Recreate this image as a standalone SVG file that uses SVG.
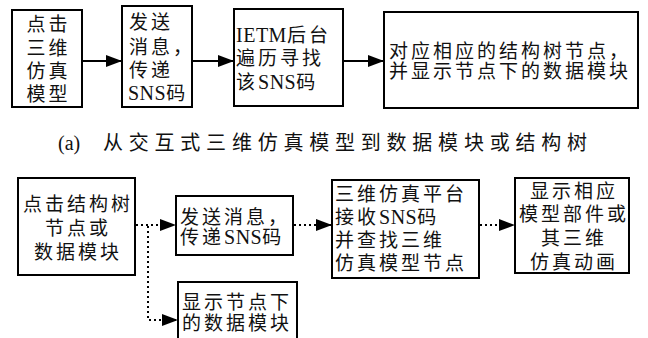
<svg xmlns="http://www.w3.org/2000/svg" width="648" height="338" viewBox="0 0 648 338">
<style>
.box{fill:#fff;stroke:#000;stroke-width:2}
.t{font-family:"Liberation Serif","Noto Sans CJK SC",serif;font-size:19px;letter-spacing:3px;fill:#111}
.c{text-anchor:middle}
.l{letter-spacing:0.5px;font-size:20px}
.solid{stroke:#000;stroke-width:2;fill:none}
.dot{stroke:#000;stroke-width:2;fill:none;stroke-dasharray:2 3}
.cap{font-family:"Liberation Serif","Noto Sans CJK SC",serif;font-size:20px;fill:#111}
</style>
<defs>
<marker id="ah" markerUnits="userSpaceOnUse" markerWidth="16" markerHeight="12" refX="16" refY="6" orient="auto">
<path d="M0,0 L16,6 L0,12 Z" fill="#000"/>
</marker>
</defs>
<rect width="648" height="338" fill="#fff"/>

<g id="connectors">
<line class="solid" x1="82" y1="61" x2="122" y2="61" marker-end="url(#ah)"/>
<line class="solid" x1="192" y1="61" x2="234" y2="61" marker-end="url(#ah)"/>
<line class="solid" x1="343" y1="61" x2="384" y2="61" marker-end="url(#ah)"/>
<line class="dot" x1="136" y1="225" x2="176" y2="225" marker-end="url(#ah)"/>
<polyline class="dot" points="148,226 148,320 178,320" marker-end="url(#ah)"/>
<line class="dot" x1="294" y1="225" x2="332" y2="225" marker-end="url(#ah)"/>
<line class="dot" x1="480" y1="225" x2="515" y2="225" marker-end="url(#ah)"/>
</g>

<g id="a1">
<rect class="box" x="12" y="10" width="70" height="97"/>
<text class="t c" x="48.5" y="31">点击</text>
<text class="t c" x="48.5" y="55">三维</text>
<text class="t c" x="48.5" y="78">仿真</text>
<text class="t c" x="48.5" y="101">模型</text>
</g>
<g id="a2">
<rect class="box" x="122" y="6" width="70" height="101"/>
<text class="t" x="129" y="29">发送</text>
<text class="t" x="129" y="54">消息，</text>
<text class="t" x="129" y="77">传递</text>
<text class="t" x="128" y="100"><tspan class="l">SNS</tspan>码</text>
</g>
<g id="a3">
<rect class="box" x="234" y="9" width="109" height="97"/>
<text class="t" x="236" y="42"><tspan class="l">IETM</tspan>后台</text>
<text class="t" x="236" y="65">遍历寻找</text>
<text class="t" x="236" y="89">该<tspan class="l">SNS</tspan>码</text>
</g>
<g id="a4">
<rect class="box" x="384" y="12" width="254" height="96"/>
<text class="t" x="389" y="58">对应相应的结构树节点，</text>
<text class="t" x="389" y="78">并显示节点下的数据模块</text>
</g>

<g id="caption">
<text class="cap" x="58" y="150" font-size="22">(a)</text>
<text class="cap" x="103" y="150" textLength="484" lengthAdjust="spacing">从交互式三维仿真模型到数据模块或结构树</text>
</g>

<g id="b1">
<rect class="box" x="18" y="178" width="117" height="97"/>
<text class="t c" x="78" y="211">点击结构树</text>
<text class="t c" x="78" y="235">节点或</text>
<text class="t c" x="78" y="259">数据模块</text>
</g>
<g id="b2">
<rect class="box" x="176" y="196" width="117" height="59"/>
<text class="t" x="180" y="224">发送消息，</text>
<text class="t" x="180" y="244">传递<tspan class="l">SNS</tspan>码</text>
</g>
<g id="b3">
<rect class="box" x="332" y="180" width="147" height="98"/>
<text class="t" x="335" y="201">三维仿真平台</text>
<text class="t" x="335" y="224">接收<tspan class="l">SNS</tspan>码</text>
<text class="t" x="335" y="247">并查找三维</text>
<text class="t" x="335" y="270">仿真模型节点</text>
</g>
<g id="b4">
<rect class="box" x="515" y="178" width="114" height="95"/>
<text class="t c" x="574" y="198">显示相应</text>
<text class="t c" x="574" y="221">模型部件或</text>
<text class="t c" x="574" y="245">其三维</text>
<text class="t c" x="574" y="269">仿真动画</text>
</g>
<g id="b5">
<rect class="box" x="178" y="282" width="119" height="70"/>
<text class="t" x="182" y="309">显示节点下</text>
<text class="t" x="182" y="330">的数据模块</text>
</g>
</svg>
